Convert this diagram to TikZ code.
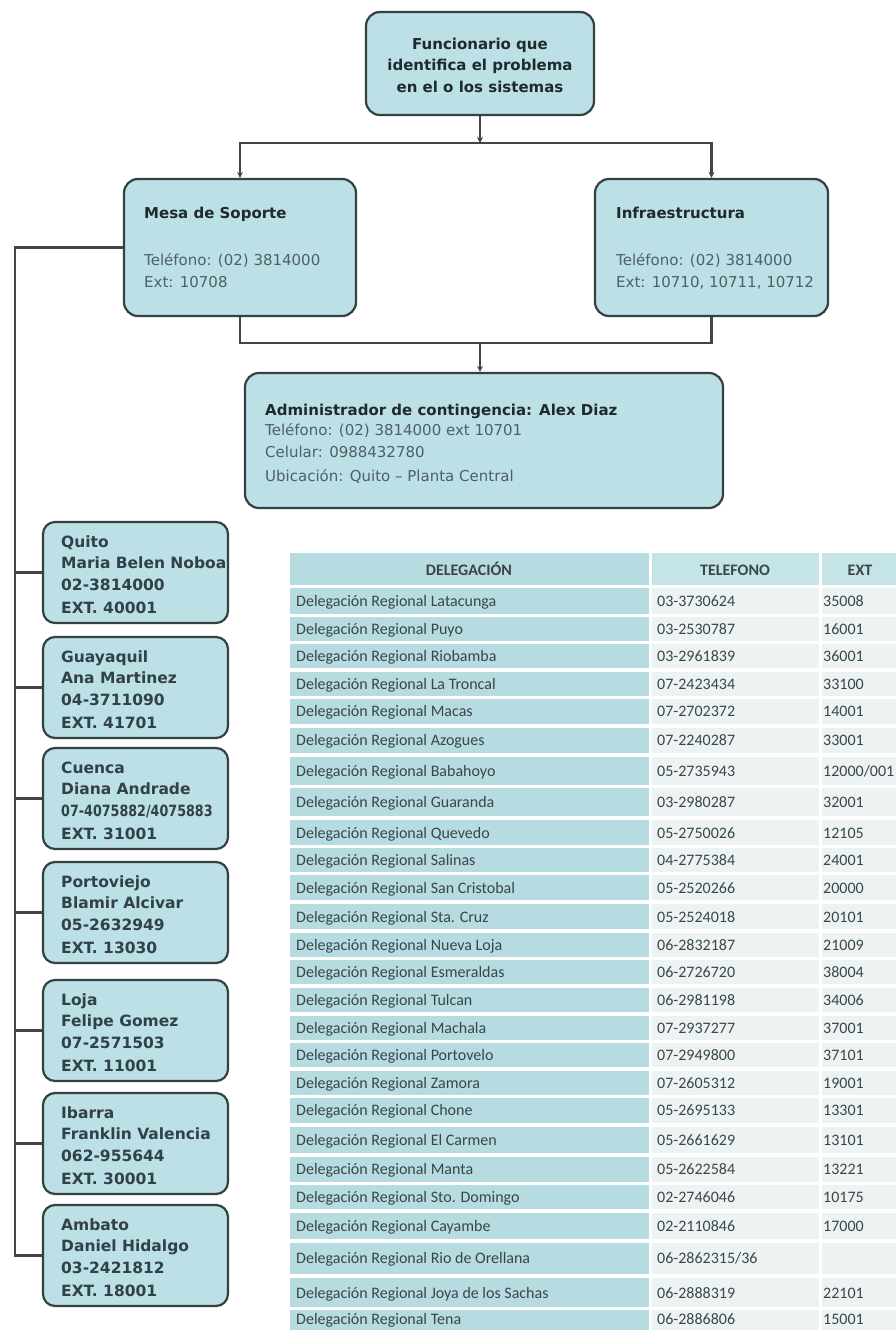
\documentclass[tikz,border=0pt]{standalone}
\usepackage{fontspec}
\setmainfont{DejaVu Sans}
\newfontfamily\tabfont{Carlito}
\usetikzlibrary{arrows.meta}

\definecolor{boxfill}{RGB}{188,224,229}
\definecolor{boxline}{RGB}{52,64,66}
\definecolor{linecol}{RGB}{68,68,68}
\definecolor{txtdark}{RGB}{30,42,46}
\definecolor{txtgray}{RGB}{78,96,102}
\definecolor{lboxtxt}{RGB}{48,66,72}
\definecolor{tealc}{RGB}{182,219,224}
\definecolor{tealh}{RGB}{196,228,232}
\definecolor{lightc}{RGB}{237,243,243}
\definecolor{tabtxt}{RGB}{58,70,72}

% one regional office card: name, top edge, four text lines
\newcommand\officebox[6]{%
  \node[lbox] (#1) at (135.5,{#2+50.5}) {};
  \node[ltxt] (#1-a) at (61,{#2+25}) {#3};
  \node[ltxt] (#1-b) at (61,{#2+46}) {#4};
  \node[ltxt] (#1-c) at (61,{#2+68}) {#5};
  \node[ltxt] (#1-d) at (61,{#2+91}) {#6};
}

\begin{document}
\begin{tikzpicture}[x=1pt,y=-1pt,
  box/.style={draw=boxline, line width=2.2pt, fill=boxfill, rounded corners=14pt, inner sep=0pt},
  lbox/.style={box, rounded corners=12pt, minimum width=185pt, minimum height=101pt},
  conn/.style={draw=linecol, line width=2.2pt},
  arr/.style={conn, -{Stealth[length=6pt,width=6pt]}},
  btxt/.style={font=\fontsize{15}{18}\selectfont\bfseries, text=txtdark, inner sep=0pt, anchor=base west},
  rtxt/.style={font=\fontsize{15}{18}\selectfont, text=txtgray, inner sep=0pt, anchor=base west},
  ltxt/.style={font=\fontsize{15.5}{18}\selectfont\bfseries, text=lboxtxt, inner sep=0pt, anchor=base west},
  tcell/.style={font=\tabfont\fontsize{16}{18}\selectfont, text=tabtxt, inner sep=0pt, anchor=base west},
  thead/.style={font=\tabfont\fontsize{16}{18}\selectfont\bfseries, text=tabtxt, inner sep=0pt, anchor=base},
]
\useasboundingbox (0,0) rectangle (896,1330);
\clip (0,0) rectangle (896,1330);
\fill[white] (0,0) rectangle (896,1330);

% ---- escalation chain ----
\node[box, minimum width=228pt, minimum height=103pt] (top) at (480,63.5) {};
\node[align=center, inner sep=0pt, text=txtdark,
      font=\fontsize{15}{21.5}\selectfont\bfseries] (toptext) at (480,65)
      {Funcionario que\\identifica el problema\\en el o los sistemas};

\node[box, minimum width=232pt, minimum height=137pt] (mesa) at (240,247.5) {};
\node[btxt] (mesa-t) at (144,218) {Mesa de Soporte};
\node[rtxt] (mesa-p) at (144,265) {Teléfono: (02) 3814000};
\node[rtxt] (mesa-e) at (144,287) {Ext: 10708};

\node[box, minimum width=233pt, minimum height=137pt] (infra) at (711.5,247.5) {};
\node[btxt] (infra-t) at (616,218) {Infraestructura};
\node[rtxt] (infra-p) at (616,265) {Teléfono: (02) 3814000};
\node[rtxt] (infra-e) at (616,287) {Ext: 10710, 10711, 10712};

\node[box, minimum width=478pt, minimum height=135pt] (admin) at (484,440.5) {};
\node[btxt] (admin-t) at (265,415) {Administrador de contingencia: Alex Diaz};
\node[rtxt] (admin-p) at (265,435) {Teléfono: (02) 3814000 ext 10701};
\node[rtxt] (admin-c) at (265,457) {Celular: 0988432780};
\node[rtxt] (admin-u) at (265,481) {Ubicación: Quito – Planta Central};

\coordinate (j1) at (480,143);
\coordinate (j2) at (480,343);
\coordinate (spine) at (15,247.5);

\draw[arr] (top.south) -- (j1);
\draw[arr] (j1) -| (mesa.north);
\draw[arr] (j1) -| (infra.north);
\draw[conn] (mesa.south) |- (j2) -| (infra.south);
\draw[arr] (j2) -- (j2 |- admin.north);

% ---- regional offices ----
\officebox{quito}{522}{Quito}{Maria Belen Noboa}{02-3814000}{EXT. 40001}
\officebox{guayaquil}{637}{Guayaquil}{Ana Martinez}{04-3711090}{EXT. 41701}
\officebox{cuenca}{748}{Cuenca}{Diana Andrade}{\scalebox{0.82}[1]{07-4075882/4075883}}{EXT. 31001}
\officebox{portoviejo}{862}{Portoviejo}{Blamir Alcivar}{05-2632949}{EXT. 13030}
\officebox{loja}{980}{Loja}{Felipe Gomez}{07-2571503}{EXT. 11001}
\officebox{ibarra}{1093}{Ibarra}{Franklin Valencia}{062-955644}{EXT. 30001}
\officebox{ambato}{1205}{Ambato}{Daniel Hidalgo}{03-2421812}{EXT. 18001}

\draw[conn] (mesa.west) -- (spine) |- (ambato.west);
\foreach \b in {quito,guayaquil,cuenca,portoviejo,loja,ibarra}
  \draw[conn] (\b.west) -- (\b.west -| spine);

% ---- delegation directory ----
\fill[tealc] (290,553) rectangle (649,585);
\fill[tealh] (652,553) rectangle (819,585);
\fill[tealh] (822,553) rectangle (900,585);
\node[thead] (h-del) at (469,575) {DELEGACIÓN};
\node[thead] (h-tel) at (735,575) {TELEFONO};
\node[thead] (h-ext) at (860,575) {EXT};

\foreach \t/\b/\y/\d/\p/\e [count=\i] in {
  588/614/606/Latacunga/03-3730624/35008,
  617/641/634/Puyo/03-2530787/16001,
  644/668/661/Riobamba/03-2961839/36001,
  672/696/689/La Troncal/07-2423434/33100,
  699/724/716/Macas/07-2702372/14001,
  728/753/745/Azogues/07-2240287/33001,
  757/785/776/Babahoyo/05-2735943/{12000/001},
  788/816/807/Guaranda/03-2980287/32001,
  820/845/838/Quevedo/05-2750026/12105,
  848/872/865/Salinas/04-2775384/24001,
  875/900/893/San Cristobal/05-2520266/20000,
  904/929/922/Sta. Cruz/05-2524018/20101,
  933/957/950/Nueva Loja/06-2832187/21009,
  960/984/977/Esmeraldas/06-2726720/38004,
  988/1012/1005/Tulcan/06-2981198/34006,
  1016/1040/1033/Machala/07-2937277/37001,
  1043/1067/1060/Portovelo/07-2949800/37101,
  1071/1095/1088/Zamora/07-2605312/19001,
  1098/1123/1115/Chone/05-2695133/13301,
  1127/1153/1145/El Carmen/05-2661629/13101,
  1157/1182/1174/Manta/05-2622584/13221,
  1185/1209/1202/Sto. Domingo/02-2746046/10175,
  1213/1239/1231/Cayambe/02-2110846/17000,
  1243/1274/1263/Rio de Orellana/{06-2862315/36}/{},
  1278/1307/1298/Joya de los Sachas/06-2888319/22101,
  1310/1340/1324/Tena/06-2886806/15001}
{
  \fill[tealc] (290,\t) rectangle (649,\b);
  \fill[lightc] (652,\t) rectangle (819,\b);
  \fill[lightc] (822,\t) rectangle (900,\b);
  \node[tcell] (d\i) at (296,\y) {Delegación Regional \d};
  \node[tcell] (p\i) at (657,\y) {\p};
  \node[tcell] (e\i) at (823,\y) {\e};
}
\end{tikzpicture}
\end{document}
